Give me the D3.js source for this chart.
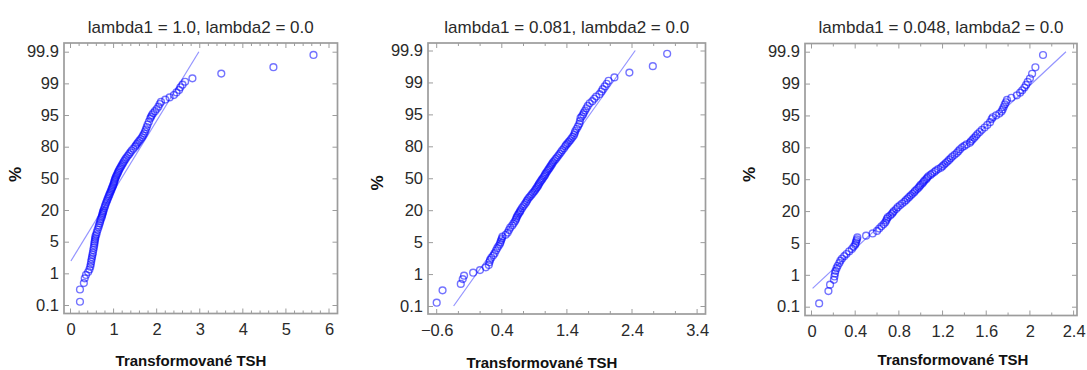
<!DOCTYPE html>
<html>
<head>
<meta charset="utf-8">
<script src="https://cdn.jsdelivr.net/npm/d3@7"></script>
<style>
  html, body { margin: 0; padding: 0; background: #fff; }
  svg { display: block; }
</style>
</head>
<body>
<svg id="chart" width="1087" height="370"></svg>
<script>
// Cumulative percentages (plotting positions) shared by all three panels
const pct = [0.13,0.33,0.52,0.72,0.9,1.08,1.25,1.45,1.65,1.9,2.15,2.4,2.7,3.0,3.4,3.8,4.2,4.6,5.0,
  5.5,6.0,6.6,7.2,8,9,
  10,11,12,13,14,15,16,17,18,19,20,
  21.5,23,24.5,26,27.5,29,30.5,32,33.5,35,36.5,38,39.5,41,42.5,44,45.5,47,48.5,
  50,
  51.5,53,54.5,56,57.5,59,60.5,62,63.5,65,66.5,68,69.5,71,72.5,74,75.5,77,78.5,
  80,81,82,83,84,85,86,87,88,89,90,91,92,
  93,94,94.5,95,
  95.4,95.8,96.2,96.6,97,
  97.3,97.6,97.85,98.1,98.35,98.55,98.75,98.92,
  99.1,99.28,99.48,99.67,99.87];

// Sorted transformed TSH values, lambda1 = 1.0
const tshL100 = [0.22,0.22,0.31,0.33,0.36,0.41,0.44,0.46,0.47,0.48,0.49,0.50,0.51,0.52,0.53,0.54,0.55,0.555,0.56,
  0.57,0.575,0.58,0.60,0.61,0.63,
  0.65,0.66,0.68,0.69,0.70,0.72,0.73,0.74,0.75,0.76,0.77,
  0.785,0.80,0.815,0.83,0.845,0.86,0.875,0.89,0.905,0.92,0.935,0.95,0.96,0.975,0.99,1.0,1.01,1.02,1.03,
  1.04,
  1.055,1.07,1.085,1.10,1.115,1.13,1.15,1.17,1.19,1.21,1.23,1.25,1.275,1.30,1.33,1.36,1.39,1.42,1.46,
  1.50,1.52,1.545,1.57,1.60,1.63,1.66,1.685,1.71,1.73,1.75,1.77,1.79,
  1.82,1.85,1.87,1.89,
  1.92,1.96,2.0,2.04,2.07,
  2.10,2.20,2.30,2.40,2.46,2.52,2.55,2.60,
  2.66,2.83,3.50,4.71,5.64];

// lambda1 = 0.081
const tshL081 = [-0.60,-0.51,-0.23,-0.20,-0.18,-0.04,0.065,0.155,0.20,0.21,0.22,0.24,0.27,0.29,0.31,0.33,0.35,0.37,0.38,
  0.39,0.40,0.41,0.46,0.49,0.51,
  0.53,0.56,0.58,0.60,0.615,0.625,0.635,0.65,0.665,0.68,0.69,
  0.71,0.73,0.75,0.77,0.785,0.80,0.82,0.84,0.86,0.88,0.90,0.915,0.93,0.945,0.96,0.97,0.985,1.0,1.015,
  1.03,
  1.045,1.06,1.07,1.085,1.10,1.115,1.13,1.145,1.16,1.175,1.19,1.21,1.23,1.25,1.27,1.29,1.31,1.33,1.355,
  1.375,1.39,1.41,1.43,1.45,1.47,1.49,1.51,1.52,1.53,1.55,1.57,1.59,
  1.60,1.61,1.63,1.65,
  1.66,1.68,1.70,1.72,1.75,
  1.79,1.82,1.85,1.90,1.93,1.95,1.98,2.01,
  2.04,2.13,2.36,2.72,2.94];

// lambda1 = 0.048
const tshL048 = [0.07,0.155,0.17,0.205,0.21,0.215,0.22,0.23,0.24,0.255,0.265,0.28,0.30,0.32,0.345,0.37,0.385,0.40,0.405,
  0.41,0.415,0.42,0.50,0.56,0.60,
  0.62,0.64,0.66,0.675,0.685,0.69,0.70,0.72,0.735,0.745,0.755,
  0.775,0.79,0.81,0.83,0.85,0.865,0.88,0.895,0.91,0.925,0.94,0.95,0.965,0.98,0.99,1.0,1.015,1.025,1.035,
  1.05,
  1.06,1.07,1.09,1.105,1.125,1.14,1.16,1.185,1.20,1.215,1.23,1.245,1.26,1.275,1.29,1.31,1.33,1.345,1.36,
  1.38,1.40,1.42,1.45,1.46,1.475,1.49,1.505,1.52,1.54,1.56,1.585,1.61,
  1.635,1.65,1.66,1.69,
  1.72,1.74,1.75,1.76,1.77,
  1.78,1.79,1.83,1.88,1.91,1.93,1.95,1.965,
  1.98,2.00,2.02,2.05,2.12];

// Reference (fitted normal) lines: end points as [x, percent]
const fitL100 = [[0.01, 1.97], [2.98, 99.9]];
const fitL081 = [[-0.34, 0.1], [2.45, 99.9]];
const fitL048 = [[0.01, 0.40], [2.33, 99.9]];

// Probability axis tick labels
const probTicks = [0.1, 1, 5, 20, 50, 80, 95, 99, 99.9];
const probLabels = ["0.1", "1", "5", "20", "50", "80", "95", "99", "99.9"];

const titles = ["lambda1 = 1.0, lambda2 = 0.0", "lambda1 = 0.081, lambda2 = 0.0", "lambda1 = 0.048, lambda2 = 0.0"];
const xTitle = "Transformované TSH";
const yTitle = "%";

// Inverse standard normal CDF (Acklam's rational approximation)
function probit(p) {
  const a = [-3.969683028665376e+01, 2.209460984245205e+02, -2.759285104469687e+02, 1.383577518672690e+02, -3.066479806614716e+01, 2.506628277459239e+00];
  const b = [-5.447609879822406e+01, 1.615858368580409e+02, -1.556989798598866e+02, 6.680131188771972e+01, -1.328068155288572e+01];
  const c = [-7.784894002430293e-03, -3.223964580411365e-01, -2.400758277161838e+00, -2.549671010730375e+00, 4.374664141464968e+00, 2.938163982698783e+00];
  const d = [7.784695709041462e-03, 3.224671290700398e-01, 2.445134137142996e+00, 3.754408661907416e+00];
  const pl = 0.02425;
  if (p < pl) {
    const q = Math.sqrt(-2 * Math.log(p));
    return (((((c[0]*q+c[1])*q+c[2])*q+c[3])*q+c[4])*q+c[5]) / ((((d[0]*q+d[1])*q+d[2])*q+d[3])*q+1);
  }
  if (p <= 1 - pl) {
    const q = p - 0.5, r = q * q;
    return (((((a[0]*r+a[1])*r+a[2])*r+a[3])*r+a[4])*r+a[5])*q / (((((b[0]*r+b[1])*r+b[2])*r+b[3])*r+b[4])*r+1);
  }
  const q = Math.sqrt(-2 * Math.log(1 - p));
  return -(((((c[0]*q+c[1])*q+c[2])*q+c[3])*q+c[4])*q+c[5]) / ((((d[0]*q+d[1])*q+d[2])*q+d[3])*q+1);
}

// Panel layout
const panels = [
  { values: tshL100, fit: fitL100, title: titles[0],
    frame: { l: 64, r: 337.5, t: 43, b: 313.5 },
    xDomain: [0, 6], xRange: [70.5, 329], xMajor: d3.range(0, 6.01, 1), xMinorStep: 0.2,
    yBottom: 305, yTop: 51.7, yTitlePos: [15.5, 174.5], xTitlePos: [191, 366] },
  { values: tshL081, fit: fitL081, title: titles[1],
    frame: { l: 428, r: 705.5, t: 43, b: 314 },
    xDomain: [-0.6, 3.4], xRange: [436.7, 697.1], xMajor: [-0.6, 0.4, 1.4, 2.4, 3.4], xMinorStep: 1 / 3,
    yBottom: 306, yTop: 50.5, yTitlePos: [377, 183], xTitlePos: [542, 368] },
  { values: tshL048, fit: fitL048, title: titles[2],
    frame: { l: 805, r: 1077, t: 43.5, b: 315.5 },
    xDomain: [0, 2.4], xRange: [811.5, 1073.6], xMajor: [0, 0.4, 0.8, 1.2, 1.6, 2, 2.4], xMinorStep: 0.2,
    yBottom: 306.7, yTop: 51.7, yTitlePos: [749.5, 174.5], xTitlePos: [953, 364.5] }
];

const svg = d3.select("#chart");
const frameColor = "#9c9c9c";
const textColor = "#2a2a2a";
const font = "'Liberation Sans', Arial, sans-serif";
const zTicks = probTicks.map(p => probit(p / 100));

panels.forEach(P => {
  const f = P.frame;
  const x = d3.scaleLinear().domain(P.xDomain).range(P.xRange);
  // probability scale: tick levels spaced evenly, piecewise linear in normal quantile between them
  const y = d3.scaleLinear()
    .domain(zTicks)
    .range(zTicks.map((_, i) => P.yBottom - i * (P.yBottom - P.yTop) / (zTicks.length - 1)));
  const yp = p => y(probit(p / 100));

  const g = svg.append("g");

  // minor and major x ticks on top and bottom edges, pointing inward
  const x0 = x.invert(f.l), x1 = x.invert(f.r);
  const start = P.xMajor[0];
  const minors = [];
  for (let k = Math.ceil((x0 - start) / P.xMinorStep - 1e-6); start + k * P.xMinorStep <= x1 + 1e-6; k++) {
    minors.push(start + k * P.xMinorStep);
  }
  const tickG = g.append("g").attr("stroke", frameColor).attr("stroke-width", 1);
  minors.forEach(v => {
    const isMajor = P.xMajor.some(m => Math.abs(m - v) < 1e-6);
    const len = isMajor ? 5 : 3;
    tickG.append("line").attr("x1", x(v)).attr("x2", x(v)).attr("y1", f.b).attr("y2", f.b - len);
    tickG.append("line").attr("x1", x(v)).attr("x2", x(v)).attr("y1", f.t).attr("y2", f.t + len);
  });

  // x tick labels
  const xAxis = d3.axisBottom(x).tickValues(P.xMajor).tickSize(0).tickPadding(10)
    .tickFormat(d => d3.format("")(+d.toFixed(1)));
  const xg = g.append("g").attr("transform", `translate(0,${f.b})`).call(xAxis);
  xg.select(".domain").remove();
  xg.selectAll("text").attr("font-family", font).attr("font-size", 16.5).attr("fill", textColor);

  // y axis (left with labels, right mirrored), inward ticks
  const yAxis = d3.axisLeft(y).tickValues(zTicks).tickSize(-5).tickPadding(5)
    .tickFormat((d, i) => probLabels[i]);
  const yg = g.append("g").attr("transform", `translate(${f.l},0)`).call(yAxis);
  yg.select(".domain").remove();
  yg.selectAll("line").attr("stroke", frameColor);
  yg.selectAll("text").attr("font-family", font).attr("font-size", 16.5).attr("fill", textColor);
  const yr = g.append("g").attr("transform", `translate(${f.r},0)`)
    .call(d3.axisRight(y).tickValues(zTicks).tickSize(-5).tickFormat(""));
  yr.select(".domain").remove();
  yr.selectAll("line").attr("stroke", frameColor);

  // frame
  g.append("rect").attr("x", f.l).attr("y", f.t).attr("width", f.r - f.l).attr("height", f.b - f.t)
    .attr("fill", "none").attr("stroke", frameColor).attr("stroke-width", 1.7);

  // fitted line
  g.append("path").datum(P.fit)
    .attr("d", d3.line().x(d => x(d[0])).y(d => yp(d[1])))
    .attr("fill", "none").attr("stroke", "#9494ff").attr("stroke-width", 1.2);

  // points
  g.append("g").selectAll("circle").data(P.values.map((v, i) => [v, pct[i]])).join("circle")
    .attr("cx", d => x(d[0])).attr("cy", d => yp(d[1])).attr("r", 3.4)
    .attr("fill", "none").attr("stroke", "#0000ff").attr("stroke-opacity", 0.55).attr("stroke-width", 1.4);

  // title
  g.append("text").attr("x", (f.l + f.r) / 2).attr("y", 33).attr("text-anchor", "middle")
    .attr("font-family", font).attr("font-size", 17).attr("fill", textColor).text(P.title);

  // axis titles
  g.append("text").attr("x", P.xTitlePos[0]).attr("y", P.xTitlePos[1]).attr("text-anchor", "middle")
    .attr("font-family", font).attr("font-size", 15).attr("font-weight", "bold")
    .attr("fill", "#111").text(xTitle);
  g.append("text").attr("transform", `translate(${P.yTitlePos[0]},${P.yTitlePos[1]}) rotate(-90)`)
    .attr("text-anchor", "middle").attr("dy", "0.35em")
    .attr("font-family", font).attr("font-size", 17).attr("font-weight", "bold")
    .attr("fill", "#111").text(yTitle);
});
</script>
</body>
</html>
